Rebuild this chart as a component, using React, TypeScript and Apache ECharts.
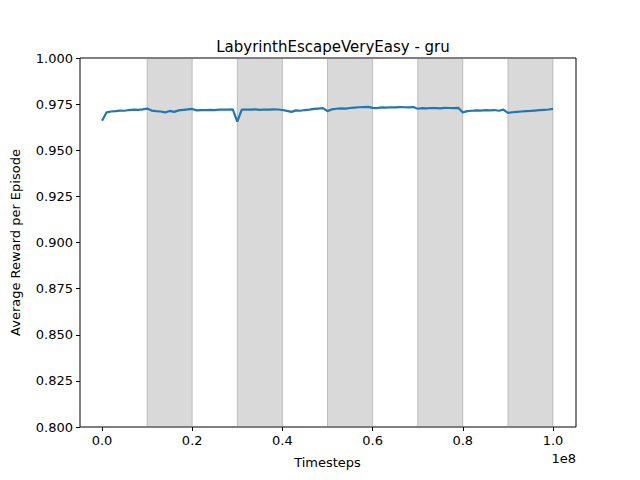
import React, { useEffect, useRef } from 'react';
import * as echarts from 'echarts';

// reward per step of 1e6 timesteps (0 .. 1e8)
const rewards = [
  0.966, 0.9705, 0.971, 0.9712, 0.9715, 0.9714, 0.9718, 0.972, 0.9719, 0.9722,
  0.9726, 0.9715, 0.9712, 0.971, 0.9705, 0.9713, 0.9708, 0.9716, 0.9719, 0.9722,
  0.9724, 0.9716, 0.9718, 0.9717, 0.9719, 0.9718, 0.972, 0.9721, 0.972, 0.9722,
  0.9655, 0.972, 0.9721, 0.972, 0.9722, 0.9719, 0.9721, 0.972, 0.9722, 0.9721,
  0.9718, 0.9713, 0.9708, 0.9716, 0.9714, 0.9718, 0.972, 0.9724, 0.9726, 0.9728,
  0.9712, 0.9722, 0.9725, 0.9727, 0.9726, 0.9729, 0.9731, 0.9733, 0.9734, 0.9735,
  0.973, 0.9728, 0.9732, 0.9731, 0.9733, 0.9732, 0.9734, 0.9733, 0.9732, 0.9734,
  0.9725, 0.9728, 0.9727, 0.9729, 0.9728, 0.9727, 0.973, 0.9729, 0.9728, 0.973,
  0.9705, 0.9712, 0.9714, 0.9716, 0.9715, 0.9717, 0.9716, 0.9718, 0.9714, 0.972,
  0.9702, 0.9706, 0.9708, 0.971, 0.9712, 0.9713, 0.9715, 0.9717, 0.9719, 0.9721,
  0.9724,
];
const stepSize = 1e6;
// shaded timestep ranges
const shaded = [
  [1e7, 2e7],
  [3e7, 4e7],
  [5e7, 6e7],
  [7e7, 8e7],
  [9e7, 1e8],
];

const font = 'DejaVu Sans';

const App = () => {
  const ref = useRef<HTMLDivElement>(null);

  useEffect(() => {
    if (!ref.current) return;
    const chart = echarts.init(ref.current, undefined, { renderer: 'svg' });
    const points = rewards.map((v, i) => [i * stepSize, v]);
    chart.setOption({
      animation: false,
      textStyle: { fontFamily: font },
      title: {
        text: 'LabyrinthEscapeVeryEasy - gru',
        left: 328,
        top: 34,
        textAlign: 'center',
        textStyle: { fontFamily: font, fontSize: 15, fontWeight: 'normal', color: '#000' },
      },
      grid: [
        { left: 80, right: 64, top: 58, bottom: 53, show: true, borderColor: '#000', borderWidth: 1, backgroundColor: 'transparent' },
        { left: 102, right: 87, top: 58, bottom: 53 },
      ],
      xAxis: [
        { gridIndex: 0, type: 'value', min: 0, max: 1, show: false },
        {
          gridIndex: 1,
          type: 'value',
          min: 0,
          max: 1e8,
          interval: 2e7,
          name: 'Timesteps',
          nameLocation: 'middle',
          nameGap: 29,
          nameTextStyle: { fontSize: 13, color: '#000' },
          axisLine: { show: false },
          axisTick: { show: true, length: 4, lineStyle: { color: '#000' } },
          splitLine: { show: false },
          axisLabel: { fontSize: 13, color: '#000', margin: 7, formatter: (v: number) => (v / 1e8).toFixed(1) },
        },
      ],
      yAxis: [
        {
          gridIndex: 0,
          type: 'value',
          min: 0.8,
          max: 1.0,
          interval: 0.025,
          name: 'Average Reward per Episode',
          nameLocation: 'middle',
          nameGap: 58,
          nameTextStyle: { fontSize: 13, color: '#000' },
          axisLine: { show: false },
          axisTick: { show: true, length: 4, lineStyle: { color: '#000' } },
          splitLine: { show: false },
          axisLabel: { fontSize: 13, color: '#000', margin: 7, formatter: (v: number) => v.toFixed(3) },
        },
        { gridIndex: 1, type: 'value', min: 0.8, max: 1.0, show: false },
      ],
      graphic: [
        { type: 'text', right: 64, top: 452, style: { text: '1e8', fontSize: 13, fill: '#000', fontFamily: font } },
      ],
      series: [
        {
          type: 'line',
          xAxisIndex: 1,
          yAxisIndex: 1,
          data: points,
          showSymbol: false,
          lineStyle: { color: '#1f77b4', width: 2.2 },
          markArea: {
            silent: true,
            itemStyle: { color: 'rgba(128,128,128,0.3)', borderColor: 'rgba(128,128,128,0.4)', borderWidth: 1 },
            data: shaded.map(([a, b]) => [{ xAxis: a }, { xAxis: b }]),
          },
        },
      ],
    });
    return () => chart.dispose();
  }, []);

  return <div ref={ref} style={{ width: 640, height: 480, margin: -8 }} />;
};

export default App;
